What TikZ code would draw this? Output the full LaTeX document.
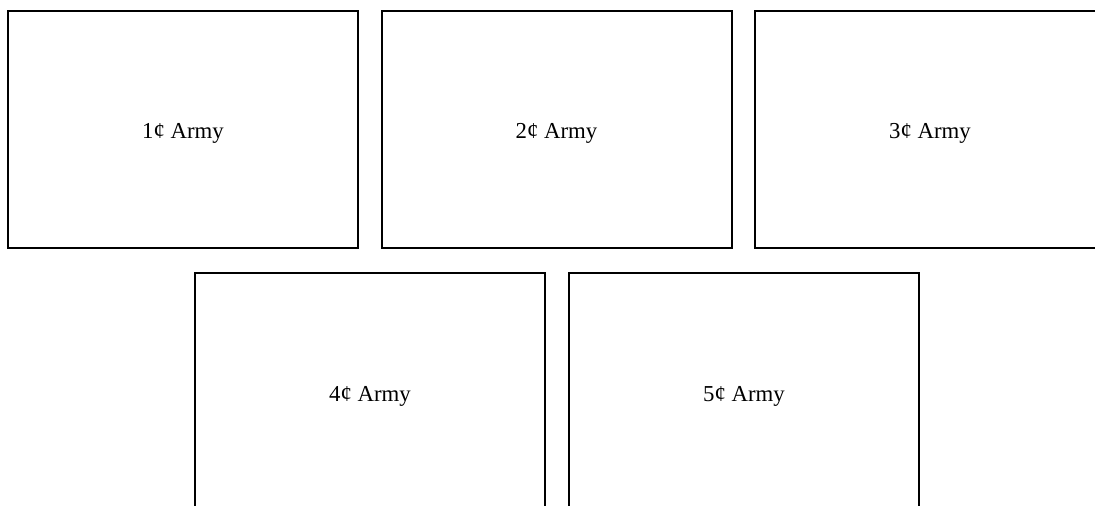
\documentclass[tikz,border=0pt]{standalone}
\usepackage{fontspec}
\setmainfont{Liberation Serif}
\begin{document}
\begin{tikzpicture}[x=1pt,y=-1pt,
  armybox/.style={draw=black,line width=2pt,minimum width=350pt,minimum height=237.5pt,
    inner sep=0pt,text height=18pt,text depth=0pt,font=\fontsize{22.8}{26}\selectfont}]
\useasboundingbox (0,0) rectangle (1095,506);
\clip (0,0) rectangle (1095,506);
\node[armybox] (a) at (183,129.25) {1¢ Army};
\node[armybox] (b) at (556.5,129.25) {2¢ Army};
\node[armybox] (c) at (930,129.25) {3¢ Army};
\node[armybox] (d) at (370,392) {4¢ Army};
\node[armybox] (e) at (744,392) {5¢ Army};
\end{tikzpicture}
\end{document}
